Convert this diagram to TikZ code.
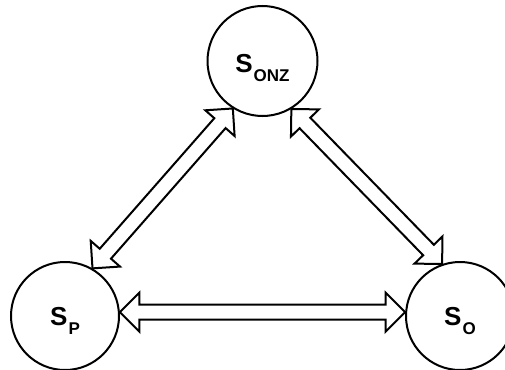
\documentclass[tikz,border=0pt]{standalone}
\usepackage{fontspec}
\setmainfont{Liberation Sans}
\usetikzlibrary{calc}

\tikzset{
  state/.style={circle, draw=black, line width=2pt, fill=white, inner sep=0pt},
  statename/.style={inner sep=0pt, font=\bfseries},
  blockarrow/.style={draw=black, line width=2pt, fill=white, line join=miter},
}

% S with a lowered subscript
\newcommand\statelabel[1]{%
  {\fontsize{26pt}{30pt}\selectfont S}\kern1pt\raisebox{-9pt}{\fontsize{17pt}{20pt}\selectfont #1}}

% hollow double-headed block arrow between two points
\newcommand\dblockarrow[2]{%
  \coordinate (ba-s) at (#1);
  \coordinate (ba-e) at (#2);
  \coordinate (ba-q1) at ($(ba-s)!19.5pt!(ba-e)$);
  \coordinate (ba-q2) at ($(ba-e)!19.5pt!(ba-s)$);
  \draw[blockarrow] (ba-s)
    -- ($(ba-q1)!19.5pt!90:(ba-e)$) -- ($(ba-q1)!7.5pt!90:(ba-e)$)
    -- ($(ba-q2)!7.5pt!-90:(ba-s)$) -- ($(ba-q2)!19.5pt!-90:(ba-s)$)
    -- (ba-e)
    -- ($(ba-q2)!19.5pt!90:(ba-s)$) -- ($(ba-q2)!7.5pt!90:(ba-s)$)
    -- ($(ba-q1)!7.5pt!-90:(ba-e)$) -- ($(ba-q1)!19.5pt!-90:(ba-e)$)
    -- cycle;
}

\begin{document}
\begin{tikzpicture}[x=1pt, y=-1pt]
  \useasboundingbox (0,0) rectangle (505,369);

  % states
  \node[state, minimum size=110pt] (onz) at (262.5,61) {};
  \node[state, minimum size=108pt] (p) at (65,316) {};
  \node[state, minimum size=108pt] (o) at (460,316) {};

  \node[statename, yshift=-7pt] (onz-l) at (onz) {\statelabel{ONZ}};
  \node[statename, yshift=-5pt] (p-l) at (p) {\statelabel{P}};
  \node[statename, yshift=-5pt] (o-l) at (o) {\statelabel{O}};

  % transitions
  \dblockarrow{p.60}{onz.238}
  \dblockarrow{onz.-59.5}{o.109}
  \dblockarrow{p.4}{o.176}
\end{tikzpicture}
\end{document}
